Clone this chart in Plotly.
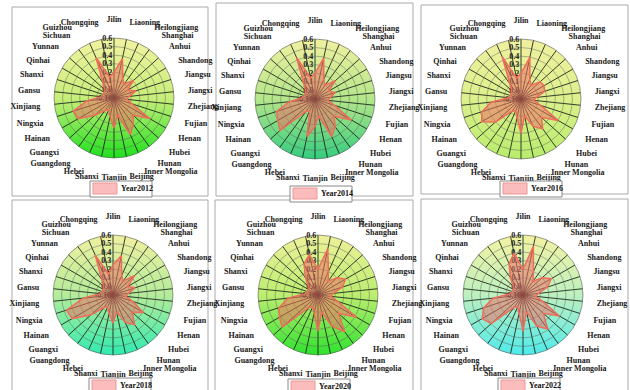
import base64
import plotly.graph_objects as go

provinces = ["Jilin", "Liaoning", "Heilongjiang", "Shanghai", "Anhui", "Shandong", "Jiangsu",
             "Jiangxi", "Zhejiang", "Fujian", "Henan", "Hubei", "Hunan", "Inner Mongolia",
             "Beijing", "Tianjin", "Shanxi", "Hebei", "Guangdong", "Guangxi", "Hainan",
             "Ningxia", "Xinjiang", "Gansu", "Shanxi", "Qinhai", "Yunnan", "Sichuan",
             "Guizhou", "Chongqing"]

years = ["Year2012", "Year2014", "Year2016", "Year2018", "Year2020", "Year2022"]

v2012 = [0.20, 0.37, 0.15, 0.10, 0.21, 0.08, 0.17, 0.08, 0.05, 0.12, 0.38, 0.20, 0.28, 0.37,
         0.10, 0.25, 0.12, 0.05, 0.08, 0.20, 0.38, 0.40, 0.22, 0.05, 0.03, 0.03, 0.05, 0.12,
         0.42, 0.15]
v2014 = [0.20, 0.39, 0.15, 0.10, 0.22, 0.08, 0.15, 0.08, 0.05, 0.14, 0.39, 0.20, 0.30, 0.38,
         0.10, 0.22, 0.35, 0.05, 0.08, 0.45, 0.40, 0.37, 0.20, 0.05, 0.03, 0.03, 0.05, 0.12,
         0.43, 0.15]
v2016 = [0.20, 0.40, 0.15, 0.10, 0.20, 0.21, 0.19, 0.08, 0.05, 0.14, 0.40, 0.22, 0.33, 0.25,
         0.10, 0.30, 0.12, 0.05, 0.08, 0.30, 0.43, 0.38, 0.25, 0.05, 0.03, 0.03, 0.05, 0.12,
         0.44, 0.15]
v2018 = [0.25, 0.37, 0.15, 0.10, 0.24, 0.10, 0.17, 0.08, 0.05, 0.14, 0.31, 0.20, 0.33, 0.25,
         0.10, 0.23, 0.12, 0.05, 0.08, 0.25, 0.45, 0.47, 0.25, 0.05, 0.03, 0.03, 0.05, 0.12,
         0.41, 0.15]
v2020 = [0.20, 0.45, 0.20, 0.10, 0.20, 0.27, 0.20, 0.08, 0.05, 0.14, 0.42, 0.22, 0.43, 0.30,
         0.10, 0.32, 0.12, 0.05, 0.08, 0.46, 0.42, 0.38, 0.25, 0.05, 0.03, 0.03, 0.05, 0.15,
         0.30, 0.38]
v2022 = [0.20, 0.48, 0.20, 0.10, 0.20, 0.28, 0.20, 0.08, 0.05, 0.14, 0.39, 0.22, 0.39, 0.30,
         0.10, 0.32, 0.12, 0.05, 0.08, 0.40, 0.45, 0.38, 0.25, 0.05, 0.03, 0.03, 0.05, 0.15,
         0.30, 0.40]
series = [v2012, v2014, v2016, v2018, v2020, v2022]

r_ticks = [-0.1, 0.0, 0.1, 0.2, 0.3, 0.4, 0.5, 0.6]
r_labels = ["-0.10", "0.0", "0.1", "0.2", "0.3", "0.4", "0.5", "0.6"]

# background gradients (top, middle, bottom)
grads = [("#f2f2a2", "#c8ee7a", "#1ee01e"),
         ("#f0f0a0", "#b4e68a", "#34cc7e"),
         ("#f0f0a0", "#dcf08c", "#b8ec6c"),
         ("#f0f0a0", "#b4ec9a", "#30eab0"),
         ("#eef09a", "#bcee70", "#2ee22e"),
         ("#f2f2a2", "#bef0c0", "#4eeaea")]

W, H = 630, 390
centers = [(114, 98), (315, 99), (521, 99), (113, 295), (318, 295), (523, 295)]
R = 60
legend_pos = [(90, 181), (290, 186), (500, 181), (89, 378), (288, 379), (498, 378)]
boxes = [(12, 7, 208, 196), (216, 3, 413, 196), (421, 5, 628, 194),
         (12, 200, 208, 392), (215, 200, 413, 392), (421, 199, 628, 392)]

NB = "&nbsp;"


def label(p):
    t = "<b>%s</b>" % p
    if p == "Heilongjiang":
        t = NB * 5 + t
    if p == "Shanghai":
        t = NB * 2 + t
    if p == "Guizhou":
        t = t + NB * 6
    return t


font_lbl = dict(family="Liberation Serif", size=8, color="#1a1a1a")

fig = go.Figure()
layout = dict(width=W, height=H, margin=dict(l=0, r=0, t=0, b=0, autoexpand=False),
              paper_bgcolor="white", plot_bgcolor="white", showlegend=False)
images, shapes, annotations = [], [], []
theta = [i * 12 for i in range(len(provinces))]
fillc = "rgba(236,112,100,0.55)"
linec = "rgb(238,110,90)"


def px(x):
    return x / W


def py(y):
    return 1 - y / H


for k in range(6):
    cx, cy = centers[k]
    pid = "polar" if k == 0 else f"polar{k+1}"
    vals = series[k]
    fig.add_trace(go.Scatterpolar(
        r=vals + [vals[0]], theta=theta + [theta[0]], mode="lines", fill="toself",
        fillcolor=fillc, line=dict(color=linec, width=1.5),
        name=years[k], subplot=pid, hoverinfo="skip"))
    dom = dict(x=[px(cx - R), px(cx + R)], y=[py(cy + R), py(cy - R)])
    layout[pid] = dict(
        domain=dom, bgcolor="rgba(0,0,0,0)",
        radialaxis=dict(range=[-0.1, 0.6], tickvals=r_ticks, ticktext=["<b>%s</b>" % t for t in r_labels],
                        angle=90, tickangle=90, side="counterclockwise", showline=False, ticks="",
                        gridcolor="rgba(90,90,90,0.45)", gridwidth=0.8, layer="below traces",
                        tickfont=dict(family="Liberation Serif", size=8, color="#222")),
        angularaxis=dict(type="linear", thetaunit="degrees", rotation=90, direction="clockwise",
                         tickmode="array", tickvals=theta,
                         ticktext=[label(p) for p in provinces],
                         tickfont=font_lbl, ticks="outside", ticklen=12, tickcolor="rgba(0,0,0,0)",
                         gridcolor="rgba(20,30,20,0.85)", gridwidth=1,
                         showline=True, linecolor="rgba(90,90,90,0.6)", linewidth=1,
                         layer="below traces"))
    top, mid, bot = grads[k]
    svg = ("<svg xmlns='http://www.w3.org/2000/svg' width='200' height='200' viewBox='0 0 200 200'>"
           "<defs><linearGradient id='g' x1='0' y1='0' x2='0' y2='1'>"
           f"<stop offset='0' stop-color='{top}'/><stop offset='0.5' stop-color='{mid}'/>"
           f"<stop offset='1' stop-color='{bot}'/></linearGradient></defs>"
           "<circle cx='100' cy='100' r='100' fill='url(#g)'/></svg>")
    src = "data:image/svg+xml;base64," + base64.b64encode(svg.encode()).decode()
    images.append(dict(source=src, xref="paper", yref="paper", x=dom["x"][0], y=dom["y"][1],
                       sizex=dom["x"][1] - dom["x"][0], sizey=dom["y"][1] - dom["y"][0],
                       xanchor="left", yanchor="top", sizing="stretch", layer="below"))
    x0, y0, x1, y1 = boxes[k]
    shapes.append(dict(type="rect", xref="paper", yref="paper", x0=px(x0), x1=px(x1),
                       y0=py(y1), y1=py(y0), line=dict(color="#aaa", width=1),
                       fillcolor="rgba(0,0,0,0)", layer="below"))
    # legend box (swatch + label)
    lx, ly = legend_pos[k]
    shapes.append(dict(type="rect", xref="paper", yref="paper", x0=px(lx), x1=px(lx + 62),
                       y0=py(ly + 16), y1=py(ly), line=dict(color="#888", width=1),
                       fillcolor="white", layer="above"))
    shapes.append(dict(type="rect", xref="paper", yref="paper", x0=px(lx + 3), x1=px(lx + 27),
                       y0=py(ly + 13), y1=py(ly + 2), line=dict(color="rgb(240,150,150)", width=1),
                       fillcolor="rgb(250,188,188)", layer="above"))
    annotations.append(dict(xref="paper", yref="paper", x=px(lx + 29), y=py(ly + 7.5),
                            xanchor="left", yanchor="middle", showarrow=False,
                            text="<b>%s</b>" % years[k],
                            font=dict(family="Liberation Serif", size=8, color="#111")))

layout["images"] = images
layout["shapes"] = shapes
layout["annotations"] = annotations
fig.update_layout(**layout)
fig.write_html("out.html")
